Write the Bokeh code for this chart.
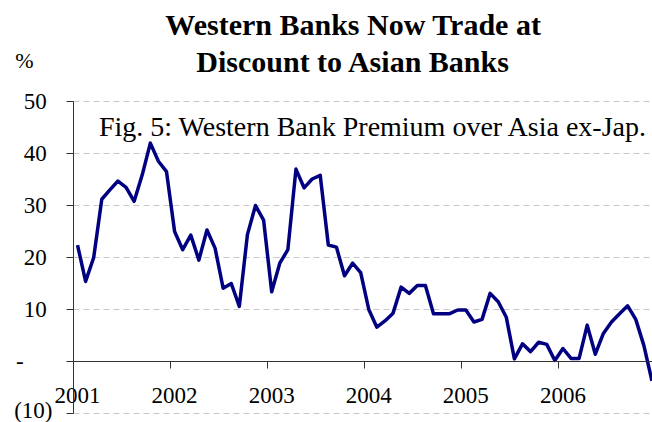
from bokeh.plotting import figure
from bokeh.models import (ColumnDataSource, Range1d, LinearAxis, FixedTicker, Label)
from bokeh.embed import file_html
from bokeh.resources import INLINE

# ---- data ----
years = ["2001", "2002", "2003", "2004", "2005", "2006"]
months_per_year = 12
premium = [
    22.4, 15.4, 20.0, 31.2, 33.0, 34.7, 33.5, 30.8, 35.9, 42.0, 38.5, 36.5,   # 2001
    25.0, 21.5, 24.3, 19.5, 25.3, 21.8, 14.1, 15.0, 10.6, 24.4, 30.0, 27.2,   # 2002
    13.4, 18.9, 21.5, 37.0, 33.4, 35.1, 35.8, 22.4, 22.0, 16.5, 18.9, 17.1,   # 2003
    10.0, 6.6, 7.8, 9.3, 14.3, 13.1, 14.6, 14.6, 9.2, 9.2, 9.2, 9.9,          # 2004
    9.9, 7.6, 8.1, 13.1, 11.5, 8.5, 0.5, 3.4, 1.9, 3.7, 3.3, 0.2,            # 2005
    2.5, 0.6, 0.6, 7.0, 1.4, 5.4, 7.6, 9.2, 10.7, 8.1, 3.1, -3.7,            # 2006
]
y_ticks = [-10, 0, 10, 20, 30, 40, 50]
y_tick_labels = ["(10)", "-", "10", "20", "30", "40", "50"]
grid_values = [-10, 10, 20, 30, 40, 50]

title_lines = ["Western Banks Now Trade at", "Discount to Asian Banks"]
note = "Fig. 5: Western Bank Premium over Asia ex-Jap."
unit_label = "%"

FONT = "Liberation Serif"
NAVY = "#000080"
AXIS = "#333333"

X_LO, X_HI = -9.02, 71.57     # visible month range (plot starts at x = 0)
Y_LO, Y_HI = -11.73, 69.42

x_pos = [i + 0.5 for i in range(len(premium))]
src = ColumnDataSource(data=dict(x=x_pos, y=premium))

p = figure(width=652, height=422, output_backend="svg", toolbar_location=None,
           title=None, x_range=Range1d(X_LO, X_HI), y_range=Range1d(Y_LO, Y_HI),
           min_border=0, min_border_left=0, min_border_right=0, min_border_top=0,
           min_border_bottom=0, x_axis_type=None, y_axis_type=None)
p.outline_line_color = None
p.background_fill_color = "white"
p.border_fill_color = "white"
p.grid.visible = False

# dashed horizontal gridlines across the plot area only
gsrc = ColumnDataSource(data=dict(x0=[0] * len(grid_values), x1=[X_HI] * len(grid_values),
                                  y=grid_values))
p.segment(x0="x0", x1="x1", y0="y", y1="y", source=gsrc, line_color="#c8c8c8",
          line_width=1, line_dash="6 4")

p.line("x", "y", source=src, line_color=NAVY, line_width=3.5, line_join="round")

# y axis at x = 0
ya = LinearAxis(ticker=FixedTicker(ticks=y_ticks), fixed_location=0, bounds=(-10, 50))
pad = {"(10)": "", "-": "\u00a0" * 5}
ya.major_label_overrides = {t: (lab + pad.get(lab, "\u00a0")) for t, lab in zip(y_ticks, y_tick_labels)}
ya.major_label_text_font = FONT
ya.major_label_text_font_size = "23px"
ya.major_label_text_color = "black"
ya.major_tick_out = 7
ya.major_tick_in = 0
ya.minor_tick_out = 0
ya.minor_tick_in = 0
ya.major_label_standoff = 14
ya.axis_line_color = AXIS
ya.major_tick_line_color = AXIS
p.add_layout(ya, "left")

# x axis at y = 0: tick marks at year boundaries
year_bounds = [i * months_per_year for i in range(len(years))]
xa_ticks = LinearAxis(ticker=FixedTicker(ticks=year_bounds), fixed_location=0, bounds=(0, X_HI),
                      major_label_overrides={t: "" for t in year_bounds},
                      major_tick_out=7, major_tick_in=0, minor_tick_out=0, minor_tick_in=0,
                      axis_line_color=AXIS, major_tick_line_color=AXIS)
p.add_layout(xa_ticks, "below")

# year labels centred on the January category of each year
year_centres = [i * months_per_year + 0.5 for i in range(len(years))]
xa_labels = LinearAxis(ticker=FixedTicker(ticks=year_centres), fixed_location=0,
                       major_label_overrides={t: y for t, y in zip(year_centres, years)},
                       major_tick_out=0, major_tick_in=0, minor_tick_out=0, minor_tick_in=0,
                       axis_line_color=None, major_label_standoff=26,
                       major_label_text_font=FONT, major_label_text_font_size="23px",
                       major_label_text_color="black")
p.add_layout(xa_labels, "below")

# titles and notes
p.add_layout(Label(x=34.6, y=64.8, text=title_lines[0], text_font=FONT, text_font_size="30px",
                   text_font_style="bold", text_align="center", text_baseline="alphabetic",
                   text_color="black"))
p.add_layout(Label(x=34.6, y=57.7, text=title_lines[1], text_font=FONT, text_font_size="30px",
                   text_font_style="bold", text_align="center", text_baseline="alphabetic",
                   text_color="black"))
p.add_layout(Label(x=-6.06, y=57.9, text=unit_label, text_font=FONT, text_font_size="22px",
                   text_align="center", text_baseline="alphabetic", text_color="black"))
p.add_layout(Label(x=3.15, y=45.1, text=note, text_font=FONT, text_font_size="28px",
                   text_align="left", text_baseline="alphabetic", text_color="black"))

open("out.html", "w").write(file_html(p, INLINE))
